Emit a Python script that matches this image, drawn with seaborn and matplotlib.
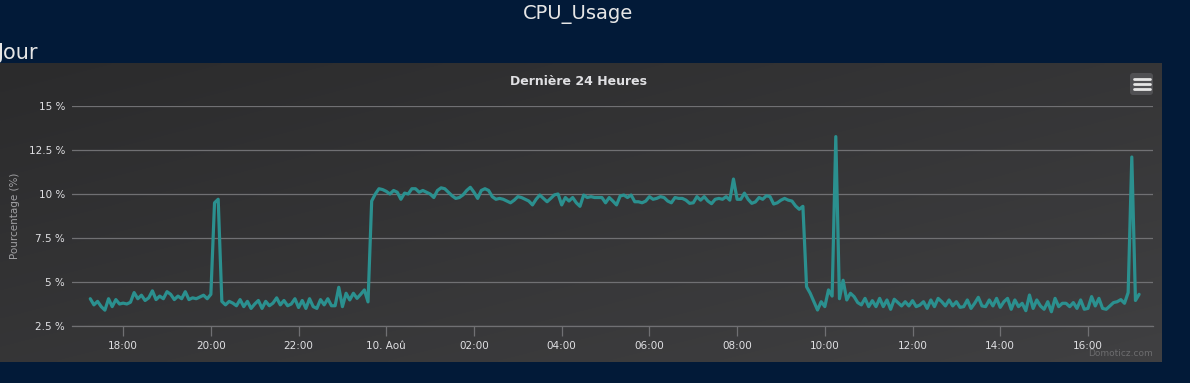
import numpy as np
import pandas as pd
import matplotlib
matplotlib.use("Agg")
import matplotlib.pyplot as plt
import matplotlib.dates as mdates
from matplotlib.patches import FancyBboxPatch
import seaborn as sns

# ---------------- data (CPU %, one sample every 5 minutes from 9 Aug 17:15) -------------
evening_before_2000 = [4.05, 3.7, 3.9, 3.6, 3.4, 4.05, 3.6, 4.0, 3.75, 3.8, 3.75, 3.85, 4.4,
                       4.05, 4.25, 3.95, 4.1, 4.5, 4.0, 4.2, 4.05, 4.45, 4.3, 4.0, 4.2, 4.05,
                       4.45, 4.0, 4.1, 4.05, 4.15, 4.25, 4.05]
spike_2000 = [4.3, 9.5, 9.7, 3.9]
evening_after_2000 = [3.7, 3.9, 3.8, 3.65, 4.0, 3.6, 3.9, 3.5, 3.75, 3.95, 3.5, 3.9, 3.65,
                      3.8, 4.1, 3.7, 3.95, 3.65, 3.75, 4.05, 3.55, 3.95, 3.5, 4.05, 3.6, 3.5,
                      4.0, 3.7, 4.05, 3.65, 3.65, 4.7]
before_midnight = [3.6, 4.36, 3.98, 4.36, 4.07, 4.3, 4.55, 3.87, 9.6]
night_high = [10.0, 10.3, 10.25, 10.15, 10.0, 10.2, 10.1, 9.7, 10.05, 10.0,
              10.3, 10.3, 10.1, 10.2, 10.1, 10.0, 9.8, 10.2, 10.35, 10.3,
              10.1, 9.9, 9.75, 9.8, 9.95, 10.2, 10.38, 10.1, 9.75, 10.2,
              10.3, 10.2, 9.85, 9.7, 9.75, 9.7, 9.6, 9.5, 9.65, 9.85,
              9.8, 9.7, 9.6, 9.38, 9.7, 9.94, 9.75, 9.56, 9.75, 9.95,
              10.0, 9.38, 9.8, 9.6, 9.8, 9.5, 9.3, 9.94, 9.8, 9.85,
              9.8, 9.8, 9.8, 9.5, 9.8, 9.6, 9.38, 9.89, 9.94, 9.8]
morning_high = [9.94, 9.56, 9.56, 9.5, 9.6, 9.85, 9.7, 9.75, 9.85, 9.8,
                9.6, 9.5, 9.8, 9.75, 9.75, 9.65, 9.47, 9.5, 9.85, 9.65,
                9.85, 9.6, 9.45, 9.7, 9.75, 9.7, 9.85, 9.65, 10.85, 9.7,
                9.7, 10.05, 9.7, 9.47, 9.55, 9.8, 9.7, 9.9, 9.85, 9.43,
                9.5, 9.65, 9.75, 9.65, 9.6, 9.32, 9.13, 9.3]
after_drop = [4.73, 4.36, 3.88, 3.41, 3.88, 3.6, 4.55, 4.2, 13.26, 4.05,
              5.1, 3.98, 4.36, 4.17, 3.83, 3.7, 4.07, 3.6, 3.94, 3.6]
day_low_1 = [4.07, 3.6, 3.98, 3.45, 4.02, 3.83, 3.64, 3.88, 3.64, 3.94,
             3.6, 3.69, 3.88, 3.5, 3.98, 3.6, 4.07, 3.88, 3.64, 3.98,
             3.64, 3.88, 3.56, 3.6, 3.98, 3.5, 3.79, 4.13, 3.64, 3.6,
             3.98, 3.64, 4.07, 3.56, 3.88, 4.07, 3.45, 3.98, 3.6, 3.79]
day_low_2 = [3.37, 4.26, 3.5, 3.98, 3.64, 3.45, 3.88, 3.31, 4.07, 3.6,
             3.79, 3.79, 3.6, 3.83, 3.5, 3.98, 3.45, 3.5, 4.17, 3.64,
             4.07, 3.5, 3.45, 3.64, 3.83, 3.88, 4.0, 3.79, 4.4, 12.1,
             3.95, 4.3]

start_time = "2017-08-09 17:15"
sample_step = "5min"
x_range = ("2017-08-09 16:50", "2017-08-10 17:29")
y_ticks = [2.5, 5, 7.5, 10, 12.5, 15]
y_tick_labels = ["2.5 %", "5 %", "7.5 %", "10 %", "12.5 %", "15 %"]
month_label = "Aoû"

cpu = np.array(evening_before_2000 + spike_2000 + evening_after_2000 + before_midnight
               + night_high + morning_high + after_drop + day_low_1 + day_low_2)
times = pd.date_range(start_time, periods=len(cpu), freq=sample_step)
df = pd.DataFrame({"time": times, "cpu": cpu})

# ---------------- style ----------------
NAVY = "#021a38"
TEAL = "#2b908f"
GRID = "#707073"
LABEL = "#e0e0e3"
plt.rcParams["font.family"] = ["DejaVu Sans"]

W, H = 1190, 383
fig = plt.figure(figsize=(W / 100, H / 100), dpi=100, facecolor=NAVY)


def fx(px):
    return px / W


def fy(py):
    return 1 - py / H


# panel background with diagonal gradient
bg = fig.add_axes([0, fy(362), fx(1162), (362 - 63) / H])
u = np.linspace(0, 1, 400)
v = np.linspace(0, 1, 120)
U, V = np.meshgrid(u, v)
T = (U + V) / 2
c0 = np.array([0x2b, 0x2b, 0x2c]) / 255
c1 = np.array([0x40, 0x40, 0x42]) / 255
img = c0 + (c1 - c0) * T[..., None]
bg.imshow(img, aspect="auto", extent=[0, 1, 1, 0], interpolation="bilinear")
bg.set_xlim(0, 1)
bg.set_ylim(1, 0)
bg.axis("off")
bg.set_zorder(0)

# main plot
ax = fig.add_axes([fx(72), fy(326), fx(1153 - 72), (326 - 106) / H])
ax.set_zorder(1)
ax.set_facecolor("none")
sns.lineplot(data=df, x="time", y="cpu", ax=ax, color=TEAL, linewidth=2.3,
             estimator=None, solid_joinstyle="round", solid_capstyle="round")

ax.set_xlim(pd.Timestamp(x_range[0]), pd.Timestamp(x_range[1]))
ax.set_ylim(y_ticks[0], y_ticks[-1])
ax.set_yticks(y_ticks)
ax.set_yticklabels(y_tick_labels)
ax.set_xlabel("")
ax.set_ylabel("")

ax.xaxis.set_major_locator(mdates.HourLocator(byhour=range(0, 24, 2)))


def fmt_time(x, pos):
    d = mdates.num2date(x)
    if d.hour == 0 and d.minute == 0:
        return f"{d.day}. {month_label}"
    return d.strftime("%H:%M")


ax.xaxis.set_major_formatter(plt.FuncFormatter(fmt_time))

for s in ["left", "top", "right"]:
    ax.spines[s].set_visible(False)
ax.spines["bottom"].set_color(GRID)
ax.spines["bottom"].set_linewidth(0.9)
ax.yaxis.grid(True, color=GRID, linewidth=0.9)
ax.xaxis.grid(False)
ax.set_axisbelow(True)
ax.tick_params(axis="x", direction="out", length=7.5, width=0.9, color=GRID,
               labelcolor=LABEL, labelsize=7.5, pad=3)
ax.tick_params(axis="y", length=0, labelcolor=LABEL, labelsize=7.5, pad=5)

# texts
fig.text(fx(15), fy(216), "Pourcentage (%)", rotation=90, ha="center", va="center",
         fontsize=7.5, color="#a0a0a3")
fig.text(fx(578), fy(85), "Dernière 24 Heures", ha="center", va="baseline",
         fontsize=9, fontweight="bold", color=LABEL)
fig.text(fx(578), fy(19), "CPU_Usage", ha="center", va="baseline",
         fontsize=14, color="#e6e6e6")
fig.text(fx(-3), fy(59), "Jour", ha="left", va="baseline",
         fontsize=15, color="#e6e6e6")
fig.text(fx(1153), fy(354), "Domoticz.com", ha="right", va="center",
         fontsize=6.5, color="#6c6c6e")

# menu button
btn = fig.add_axes([fx(1130), fy(95), fx(23), 22 / H])
btn.set_xlim(0, 23)
btn.set_ylim(22, 0)
btn.axis("off")
btn.set_zorder(2)
btn.add_patch(FancyBboxPatch((0, 0), 23, 22, boxstyle="round,pad=0,rounding_size=3",
                             facecolor="#505053", edgecolor="none"))
for yy in (6, 11, 16):
    btn.plot([4, 19.5], [yy, yy], color="#e6e6e6", linewidth=2.0,
             solid_capstyle="round")

fig.savefig("out.png", dpi=100, facecolor=fig.get_facecolor())
